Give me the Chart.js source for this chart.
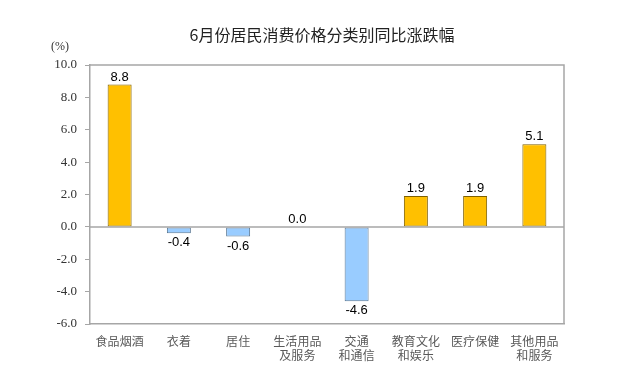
<!DOCTYPE html>
<html><head><meta charset="utf-8">
<script src="https://cdn.jsdelivr.net/npm/chart.js@4"></script>
<style>html,body{margin:0;padding:0;background:#fff}#wrap{width:643px;height:379px;position:relative}</style>
</head><body><div id="wrap"><canvas id="c" width="643" height="379"></canvas></div>
<script>
const categories = [["食品烟酒"],["衣着"],["居住"],["生活用品","及服务"],["交通","和通信"],["教育文化","和娱乐"],["医疗保健"],["其他用品","和服务"]];
const values = [8.8, -0.4, -0.6, 0.0, -4.6, 1.9, 1.9, 5.1];
const yTicks = [-6, -4, -2, 0, 2, 4, 6, 8, 10];
const titleText = "6月份居民消费价格分类别同比涨跌幅";
const unitText = "(%)";

const posFill = '#FFC000', posBorder = '#7F6000';
const negFill = '#99CCFF', negBorder = '#5A7894';

const decor = {
  id: 'decor',
  afterDatasetsDraw(chart) {
    const {ctx, chartArea: a, scales: {x, y}} = chart;
    ctx.save();
    ctx.strokeStyle = '#A6A6A6'; ctx.lineWidth = 1.5;
    ctx.beginPath();
    ctx.moveTo(a.left, a.top); ctx.lineTo(a.right, a.top); ctx.lineTo(a.right, a.bottom);
    ctx.stroke();
    const y0 = y.getPixelForValue(0);
    ctx.beginPath(); ctx.moveTo(a.left, y0); ctx.lineTo(a.right, y0); ctx.stroke();
    ctx.fillStyle = '#000'; ctx.font = '13px "Liberation Sans", Arial, sans-serif';
    ctx.textAlign = 'center';
    const meta = chart.getDatasetMeta(0);
    values.forEach((v, i) => {
      const bar = meta.data[i];
      const txt = v.toFixed(1);
      if (v >= 0) { ctx.textBaseline = 'bottom'; ctx.fillText(txt, bar.x, y.getPixelForValue(v) - 1); }
      else { ctx.textBaseline = 'top'; ctx.fillText(txt, bar.x, y.getPixelForValue(v) + 3); }
    });
    ctx.fillStyle = '#222'; ctx.font = '16px "Noto Sans CJK SC", sans-serif';
    ctx.textBaseline = 'middle';
    ctx.fillText(titleText, 322, 35);
    ctx.font = '12px "Liberation Serif", serif'; ctx.fillStyle = '#333';
    ctx.fillText(unitText, 60, 47);
    ctx.restore();
  }
};

new Chart(document.getElementById('c'), {
  type: 'bar',
  data: {
    labels: categories,
    datasets: [{
      data: values,
      backgroundColor: values.map(v => v >= 0 ? posFill : negFill),
      borderColor: values.map(v => v >= 0 ? posBorder : negBorder),
      borderWidth: 1,
      borderSkipped: false,
      barPercentage: 0.405,
      categoryPercentage: 1
    }]
  },
  options: {
    responsive: false, animation: false,
    layout: {padding: {left: 0, right: 79, top: 65, bottom: 0}},
    plugins: {legend: {display: false}, tooltip: {enabled: false}, title: {display: false}},
    scales: {
      x: {
        grid: {display: false},
        border: {display: true, color: '#A6A6A6', width: 1.5},
        ticks: {color: '#595959', font: {size: 12, family: '"Noto Sans CJK SC", sans-serif', lineHeight: 1.2}, padding: 2, maxRotation: 0, autoSkip: false},
        afterFit(s) { s.height = 55; }
      },
      y: {
        min: -6, max: 10,
        afterBuildTicks(s) { s.ticks = yTicks.map(v => ({value: v})); },
        grid: {drawOnChartArea: false, drawTicks: true, tickLength: 5, color: '#A6A6A6'},
        border: {display: true, color: '#A6A6A6', width: 1.5},
        ticks: {color: '#333', font: {size: 13, family: '"Liberation Serif", serif'}, padding: 8,
                callback: v => Number(v).toFixed(1)},
        afterFit(s) { s.width = 90; }
      }
    }
  },
  plugins: [decor]
});
</script></body></html>
